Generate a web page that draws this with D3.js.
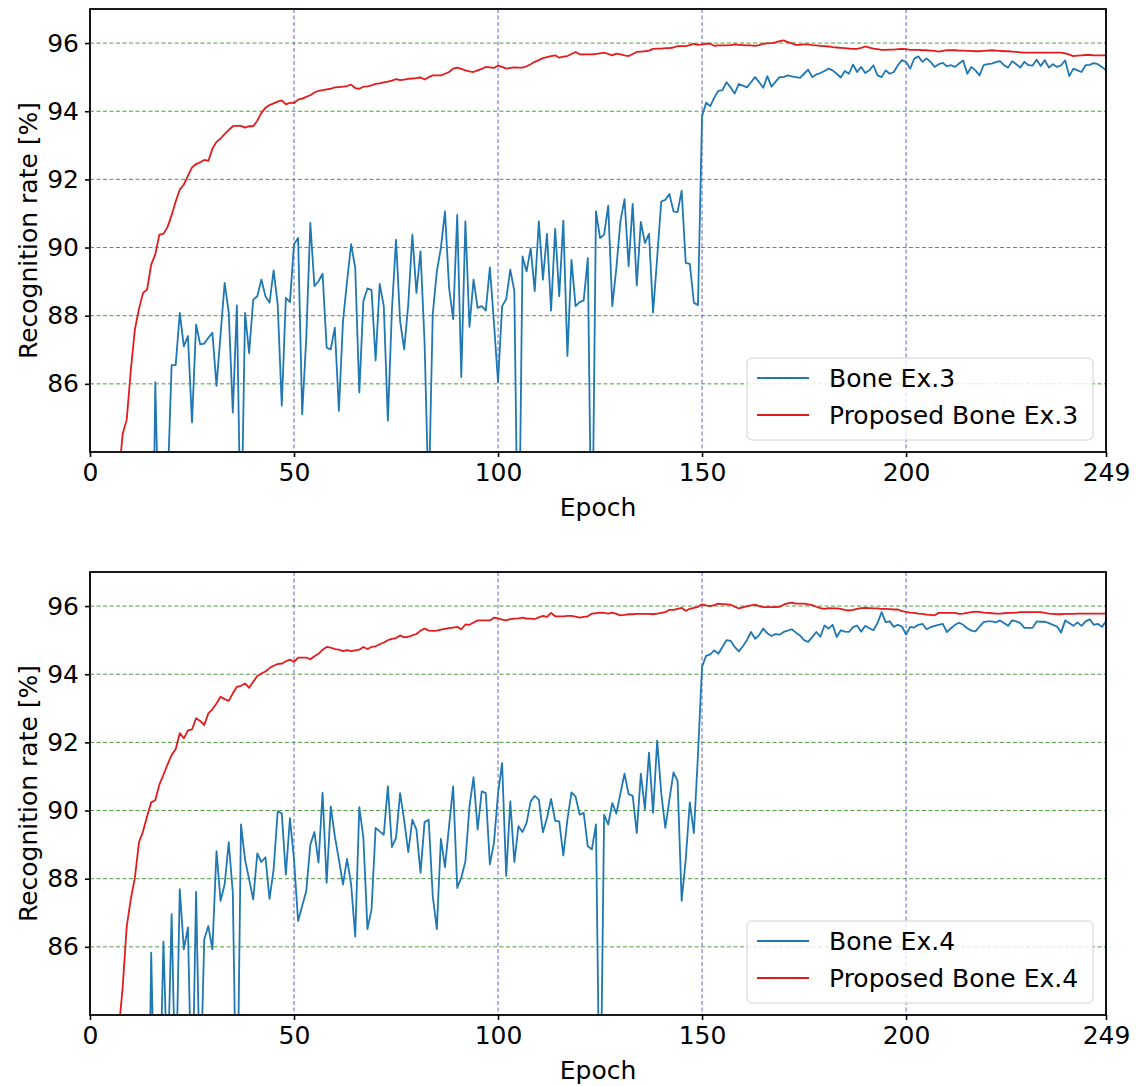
<!DOCTYPE html>
<html>
<head>
<meta charset="utf-8">
<script src="https://cdn.jsdelivr.net/npm/d3@7"></script>
<style>
body { margin:0; background:#fff; }
svg text { font-family:"DejaVu Sans", sans-serif; }
</style>
</head>
<body>
<div id="chart"></div>
<script>
// ticks
var xTicks = [0, 50, 100, 150, 200, 249];
var yTicks = [86, 88, 90, 92, 94, 96];

// top panel: Bone Ex.3 (values below 84 are clipped by the axis)
var boneEx3 = [40,52,60,65,68,70,71.5,72.5,73.5,74.2,74.8,75.3,75.7,76,76.3,76.2,86.05,80.9,81.5,82.9,
86.55,86.55,88.08,87.1,87.4,84.87,87.74,87.16,87.18,87.35,87.5,85.94,87.45,88.96,88.1,85.16,88.3,81,88.08,86.9,
88.47,88.57,89.06,88.57,88.38,89.33,88.33,85.36,88.52,88.4,90.1,90.28,85.11,87.35,90.72,88.87,89.01,89.23,87.06,87.01,
87.65,85.21,87.84,89.01,90.1,89.4,85.75,88.43,88.8,88.75,86.69,88.93,88.28,84.92,88.18,90.23,87.84,87.01,88.33,90.38,
88.67,89.89,87.2,82.5,88.04,89.3,89.99,91.06,88.82,87.9,90.96,86.2,90.77,87.67,89.06,88.23,88.28,88.15,89.42,87.79,
86.05,88.28,88.48,89.35,88.72,79.5,89.74,89.3,89.98,88.72,90.77,89.06,90.4,88.15,90.55,88.57,90.79,86.82,89.64,88.28,
88.4,88.45,89.69,80,91.06,90.28,90.38,91.23,88.28,89.4,90.77,91.42,89.45,91.28,88.89,90.75,90.13,90.4,88.09,89.7,
91.35,91.4,91.57,91.06,91.04,91.67,89.55,89.52,88.38,88.31,93.85,94.25,94.15,94.4,94.6,94.62,94.85,94.7,94.52,94.8,
94.75,94.7,94.85,95.0,94.85,94.69,95.03,94.72,94.86,95.0,95.0,95.05,95.02,95.0,94.98,95.1,95.22,95.0,95.08,95.12,
95.18,95.25,95.2,95.1,94.99,95.18,95.1,95.37,95.15,95.3,95.12,95.2,95.35,95.05,95.0,95.2,95.1,95.15,95.35,95.5,
95.45,95.25,95.54,95.61,95.45,95.55,95.45,95.3,95.38,95.42,95.32,95.35,95.3,95.4,95.49,95.1,95.3,95.2,95.05,95.35,
95.38,95.4,95.44,95.47,95.35,95.28,95.47,95.38,95.28,95.45,95.35,95.34,95.51,95.33,95.5,95.28,95.38,95.3,95.35,95.49,
95.03,95.25,95.2,95.15,95.35,95.36,95.41,95.38,95.3,95.2];

var proposedEx3 = [70,73,76,78.5,80.5,82,83,83.2,84.53,84.95,86.4,87.6,88.2,88.67,88.77,89.5,89.8,90.38,90.4,90.6,
90.95,91.35,91.7,91.85,92.1,92.35,92.45,92.5,92.57,92.54,92.9,93.1,93.2,93.33,93.45,93.56,93.57,93.57,93.52,93.56,
93.56,93.72,93.95,94.1,94.18,94.23,94.28,94.32,94.2,94.25,94.24,94.34,94.37,94.42,94.47,94.55,94.6,94.62,94.64,94.66,
94.7,94.71,94.72,94.74,94.78,94.68,94.66,94.72,94.73,94.76,94.8,94.82,94.85,94.87,94.9,94.94,94.91,94.93,94.95,94.96,
94.97,94.99,94.93,95.0,95.05,95.05,95.05,95.1,95.15,95.25,95.28,95.24,95.2,95.17,95.15,95.2,95.24,95.3,95.29,95.27,
95.34,95.3,95.25,95.27,95.29,95.28,95.28,95.32,95.38,95.45,95.5,95.56,95.59,95.62,95.64,95.57,95.6,95.62,95.68,95.74,
95.67,95.67,95.67,95.67,95.68,95.7,95.72,95.68,95.64,95.69,95.67,95.64,95.62,95.68,95.74,95.75,95.76,95.78,95.83,95.84,
95.84,95.85,95.85,95.87,95.91,95.91,95.91,95.94,95.98,95.95,95.96,95.98,95.98,95.92,95.93,95.93,95.93,95.94,95.96,95.95,
95.94,95.93,95.93,95.92,95.94,95.98,95.99,96.0,96.02,96.06,96.08,96.03,95.99,95.95,95.95,95.96,95.96,95.94,95.93,95.92,
95.91,95.9,95.88,95.87,95.86,95.85,95.84,95.83,95.83,95.86,95.9,95.87,95.84,95.82,95.8,95.8,95.81,95.81,95.82,95.83,
95.82,95.8,95.8,95.8,95.79,95.79,95.78,95.77,95.75,95.77,95.79,95.79,95.79,95.78,95.78,95.77,95.77,95.76,95.76,95.77,
95.78,95.79,95.78,95.77,95.76,95.76,95.75,95.74,95.73,95.72,95.72,95.72,95.72,95.72,95.72,95.72,95.72,95.72,95.72,95.7,
95.66,95.62,95.63,95.64,95.65,95.65,95.64,95.64,95.64,95.64];

// bottom panel: Bone Ex.4
var boneEx4 = [40,52,60,65,68,70,71.5,72.5,73.5,74.2,74.8,75.3,75.7,76,77,85.83,80,81,86.15,82,
86.96,81.5,87.69,85.93,86.57,81,87.61,81.5,86.22,86.61,85.93,88.81,87.35,87.83,89.07,87.59,80,89.59,88.56,87.98,
87.39,88.74,88.49,88.63,87.41,88.27,89.98,89.91,88.12,89.78,88.56,86.76,87.2,87.64,89.0,89.37,88.47,90.52,87.88,90.12,
89.25,88.56,87.83,88.58,87.83,86.3,90.1,89.2,86.52,87.1,89.49,89.39,89.29,90.71,88.93,89.2,90.51,89.71,88.78,89.73,
89.44,88.17,89.66,89.73,87.49,86.52,89.17,88.34,89.54,90.71,87.73,88.03,88.51,90.12,90.98,89.44,90.56,90.51,88.42,89.05,
90.5,91.39,88.08,90.27,88.49,89.54,89.37,89.64,90.27,90.43,90.32,89.36,89.78,90.34,89.7,89.68,88.68,89.73,90.53,90.41,
89.88,89.93,88.95,88.86,89.59,80,89.88,89.59,90.22,89.91,90.51,91.08,90.48,90.43,89.34,91.08,90.04,91.7,89.93,92.05,
90.51,89.49,90.32,91.12,90.87,87.35,88.56,90.24,89.34,91.63,94.22,94.54,94.58,94.7,94.6,94.8,95.0,94.98,94.8,94.67,
94.82,95.0,95.24,95.04,95.15,95.34,95.2,95.12,95.18,95.16,95.24,95.28,95.32,95.22,95.14,95.0,94.95,95.09,95.24,95.1,
95.43,95.34,95.45,95.09,95.29,95.25,95.24,95.38,95.43,95.25,95.42,95.35,95.29,95.5,95.82,95.53,95.55,95.39,95.45,95.4,
95.16,95.39,95.37,95.45,95.48,95.32,95.38,95.42,95.45,95.48,95.24,95.35,95.45,95.51,95.45,95.35,95.28,95.26,95.4,95.53,
95.55,95.55,95.52,95.58,95.5,95.42,95.58,95.55,95.5,95.36,95.36,95.36,95.55,95.54,95.54,95.5,95.45,95.4,95.22,95.58,
95.5,95.42,95.52,95.42,95.55,95.61,95.45,95.48,95.39,95.55];

var proposedEx4 = [70,73,76,78.5,80.5,82,83,83.5,84.8,86.6,87.4,88.03,89.07,89.39,89.83,90.24,90.3,90.76,91.05,91.35,
91.63,91.8,92.27,92.12,92.35,92.38,92.71,92.63,92.51,92.85,92.97,93.14,93.34,93.27,93.22,93.44,93.63,93.66,93.73,93.6,
93.78,93.95,94.02,94.08,94.18,94.25,94.3,94.31,94.38,94.43,94.36,94.49,94.49,94.49,94.44,94.53,94.6,94.72,94.8,94.78,
94.74,94.72,94.68,94.71,94.68,94.7,94.72,94.8,94.74,94.8,94.82,94.88,94.93,95.0,95.04,95.06,95.14,95.08,95.1,95.14,
95.18,95.28,95.34,95.28,95.27,95.28,95.31,95.33,95.35,95.37,95.39,95.32,95.46,95.45,95.52,95.58,95.58,95.58,95.58,95.66,
95.64,95.6,95.58,95.62,95.63,95.64,95.66,95.63,95.63,95.62,95.67,95.71,95.68,95.8,95.7,95.7,95.7,95.71,95.71,95.69,
95.66,95.68,95.7,95.78,95.79,95.81,95.8,95.78,95.81,95.77,95.73,95.74,95.76,95.76,95.77,95.77,95.77,95.77,95.76,95.78,
95.8,95.82,95.89,95.89,95.92,95.95,95.86,95.92,95.95,95.98,96.05,96.02,96.0,96.03,96.07,96.06,96.05,96.04,95.98,95.93,
95.96,96.0,96.02,96.04,96.0,95.97,95.97,95.97,95.97,95.98,96.04,96.08,96.1,96.07,96.07,96.07,96.05,96.03,95.98,95.94,
95.92,95.94,95.93,95.93,95.92,95.89,95.87,95.89,95.92,95.94,95.95,95.94,95.93,95.93,95.92,95.92,95.91,95.9,95.9,95.85,
95.83,95.81,95.8,95.78,95.77,95.75,95.74,95.73,95.8,95.8,95.8,95.8,95.8,95.77,95.78,95.8,95.82,95.84,95.83,95.81,
95.8,95.79,95.78,95.78,95.79,95.8,95.8,95.81,95.82,95.82,95.82,95.82,95.82,95.82,95.8,95.78,95.77,95.76,95.76,95.77,
95.77,95.77,95.78,95.78,95.78,95.78,95.78,95.78,95.78,95.78];

var W = 1137, H = 1086;
var left = 90, right = 1106;
var blue = "#1f77b4", red = "#e41a1c";
var svg = d3.select("#chart").append("svg").attr("width", W).attr("height", H);

var x = d3.scaleLinear().domain([0, 249]).range([left, right]);

function drawPanel(id, top, bottom, blueData, redData, blueName, redName) {
    var y = d3.scaleLinear().domain([84, 97]).range([bottom, top]);
    var g = svg.append("g").attr("id", id);

    g.append("clipPath").attr("id", id + "clip")
        .append("rect").attr("x", left).attr("y", top)
        .attr("width", right - left).attr("height", bottom - top);

    // grid: green dashed for y, blue dashed for x
    g.selectAll("line.hgrid").data(yTicks).enter().append("line").attr("class", "hgrid")
        .attr("x1", left).attr("x2", right)
        .attr("y1", function (d) { return y(d); }).attr("y2", function (d) { return y(d); })
        .attr("stroke", "#4f9a40").attr("stroke-width", 1).attr("stroke-dasharray", "4,2.5");
    g.selectAll("line.vgrid").data(xTicks).enter().append("line").attr("class", "vgrid")
        .attr("y1", top).attr("y2", bottom)
        .attr("x1", function (d) { return x(d); }).attr("x2", function (d) { return x(d); })
        .attr("stroke", "#6464c8").attr("stroke-width", 1).attr("stroke-dasharray", "4,2.5");

    var line = d3.line().x(function (d, i) { return x(i); }).y(function (d) { return y(d); });
    var lines = g.append("g").attr("clip-path", "url(#" + id + "clip)");
    lines.append("path").datum(blueData).attr("d", line)
        .attr("fill", "none").attr("stroke", blue).attr("stroke-width", 1.8).attr("stroke-linejoin", "round");
    lines.append("path").datum(redData).attr("d", line)
        .attr("fill", "none").attr("stroke", red).attr("stroke-width", 1.8).attr("stroke-linejoin", "round");

    // axes
    var ya = g.append("g").attr("transform", "translate(" + left + ",0)")
        .call(d3.axisLeft(y).tickValues(yTicks).tickSize(5).tickPadding(6).tickFormat(d3.format("d")));
    var xa = g.append("g").attr("transform", "translate(0," + bottom + ")")
        .call(d3.axisBottom(x).tickValues(xTicks).tickSize(5).tickPadding(6).tickFormat(d3.format("d")));
    [ya, xa].forEach(function (a) {
        a.select(".domain").remove();
        a.selectAll("text").attr("font-size", 25).attr("fill", "#000")
            .style("font-family", "DejaVu Sans");
        a.selectAll("line").attr("stroke", "#000").attr("stroke-width", 1.6);
    });
    // frame
    g.append("rect").attr("x", left).attr("y", top).attr("width", right - left).attr("height", bottom - top)
        .attr("fill", "none").attr("stroke", "#000").attr("stroke-width", 1.8);

    g.append("text").attr("x", (left + right) / 2).attr("y", bottom + 64)
        .attr("text-anchor", "middle").attr("font-size", 25).text("Epoch");
    g.append("text").attr("transform", "translate(28," + (top + bottom) / 2 + ") rotate(-90)")
        .attr("text-anchor", "middle").attr("dominant-baseline", "central")
        .attr("font-size", 25).text("Recognition rate [%]");

    // legend
    var lx = 747, ly = bottom - 94;
    var lg = g.append("g");
    lg.append("rect").attr("x", lx).attr("y", ly).attr("width", 346).attr("height", 82).attr("rx", 5)
        .attr("fill", "#fff").attr("fill-opacity", 0.8).attr("stroke", "#d0d0d0").attr("stroke-width", 1);
    var items = [{name: blueName, color: blue}, {name: redName, color: red}];
    items.forEach(function (d, i) {
        var cy = ly + 20 + i * 37;
        lg.append("line").attr("x1", lx + 10).attr("x2", lx + 62).attr("y1", cy).attr("y2", cy)
            .attr("stroke", d.color).attr("stroke-width", 1.8);
        lg.append("text").attr("x", lx + 82).attr("y", cy).attr("dominant-baseline", "central")
            .attr("font-size", 25).text(d.name);
    });
}

drawPanel("top", 9, 452, boneEx3, proposedEx3, "Bone Ex.3", "Proposed Bone Ex.3");
drawPanel("bottom", 572, 1015, boneEx4, proposedEx4, "Bone Ex.4", "Proposed Bone Ex.4");
</script>
</body>
</html>
